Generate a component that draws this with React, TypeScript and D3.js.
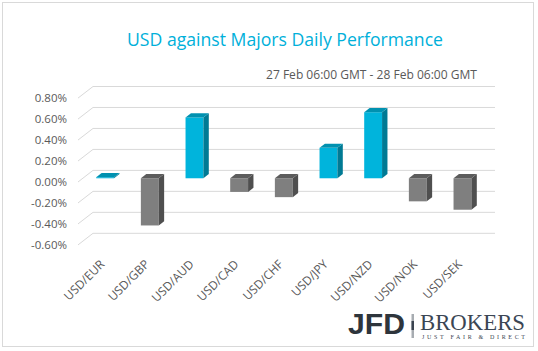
import * as d3 from "d3";

const pairs = ["USD/EUR", "USD/GBP", "USD/AUD", "USD/CAD", "USD/CHF", "USD/JPY", "USD/NZD", "USD/NOK", "USD/SEK"];
const changes = [0.01, -0.45, 0.58, -0.13, -0.18, 0.29, 0.63, -0.22, -0.3];
const yTicks = [-0.6, -0.4, -0.2, 0, 0.2, 0.4, 0.6, 0.8];

const title = "USD against Majors Daily Performance";
const subtitle = "27 Feb 06:00 GMT - 28 Feb 06:00 GMT";

const width = 538;
const height = 351;

// depth of the 3d plot box (front plane -> back wall)
const depth = { dx: 15, dy: -11.6 };
const barFront = 0.32;
const barBack = 0.68;

const fmt = d3
  .formatLocale({ decimal: ".", thousands: ",", grouping: [3], currency: ["$", ""], minus: "-" })
  .format(".2%");

export default function App() {
  const x = d3.scaleBand().domain(pairs).range([78, 480]).paddingInner(0.6).paddingOuter(0.3);
  const y = d3.scaleLinear().domain([-0.6, 0.8]).range([244.9, 98.1]);
  // values are in percent, format expects fractions
  const label = (v: number) => fmt(v / 100);

  const fx = depth.dx * barFront;
  const fy = depth.dy * barFront;
  const sx = depth.dx * (barBack - barFront);
  const sy = depth.dy * (barBack - barFront);

  return (
    <svg width={width} height={height} style={{ position: "absolute", left: 0, top: 0, background: "#fff" }}>
      <rect x={2.5} y={2.5} width={531} height={344} fill="#fff" stroke="#d9d9d9" />
      <text
        x={285}
        y={46}
        textAnchor="middle"
        fontFamily="'Open Sans', sans-serif"
        fontSize={18}
        fill="#00b0da"
        textLength={316}
        lengthAdjust="spacingAndGlyphs"
      >
        {title}
      </text>
      <text
        x={477}
        y={79}
        textAnchor="end"
        fontFamily="'Open Sans', sans-serif"
        fontSize={12.5}
        fill="#595959"
        textLength={211}
        lengthAdjust="spacingAndGlyphs"
      >
        {subtitle}
      </text>

      {/* gridlines: left wall diagonal + back wall */}
      <g fill="none" stroke="#d9d9d9" strokeWidth={1}>
        {yTicks.map((t) => {
          const yy = y(t);
          return (
            <path
              key={t}
              d={`M${x.range()[0]},${yy}L${x.range()[0] + depth.dx},${yy + depth.dy}L${x.range()[1] + depth.dx},${yy + depth.dy}`}
            />
          );
        })}
      </g>
      <g fontFamily="'Open Sans', sans-serif" fontSize={11.5} fill="#595959" textAnchor="end">
        {yTicks.map((t) => (
          <text key={t} x={67} y={y(t)} dy="0.35em">
            {label(t)}
          </text>
        ))}
      </g>

      {/* 3d columns */}
      <g>
        {pairs.map((p, i) => {
          const v = changes[i];
          const pos = v >= 0;
          const x0 = (x(p) as number) + fx;
          const x1 = x0 + x.bandwidth();
          const top = Math.min(y(0), y(v)) + fy;
          const bot = Math.max(y(0), y(v)) + fy;
          const c = pos
            ? { front: "#00b4dc", side: "#007a94", top: "#0091b0" }
            : { front: "#7f7f7f", side: "#4f4f4f", top: "#5c5c5c" };
          return (
            <g key={p}>
              <rect x={x0} y={top} width={x1 - x0} height={Math.max(bot - top, 0.8)} fill={c.front} />
              <path d={`M${x1},${top}L${x1 + sx},${top + sy}L${x1 + sx},${bot + sy}L${x1},${bot}Z`} fill={c.side} />
              <path d={`M${x0},${top}L${x0 + sx},${top + sy}L${x1 + sx},${top + sy}L${x1},${top}Z`} fill={c.top} />
            </g>
          );
        })}
      </g>

      <g fontFamily="'Open Sans', sans-serif" fontSize={12} fill="#595959" textAnchor="end">
        {pairs.map((p) => {
          const cx = (x(p) as number) + x.bandwidth() / 2 + 5;
          return (
            <text key={p} transform={`translate(${cx},265) rotate(-45)`}>
              {p}
            </text>
          );
        })}
      </g>

      {/* logo */}
      <g>
        <text
          x={348}
          y={334}
          fontFamily="'Liberation Sans', Arial, sans-serif"
          fontWeight="bold"
          fontSize={29}
          fill="#2e353c"
          textLength={57}
          lengthAdjust="spacingAndGlyphs"
        >
          JFD
        </text>
        <rect x={411.5} y={314} width={2.5} height={24} fill="#a7acb1" />
        <rect x={411.5} y={321} width={2.5} height={9} fill="#3b4450" />
        <text
          x={420}
          y={329.5}
          fontFamily="'Liberation Serif', serif"
          fontSize={24}
          fill="#3b4654"
          textLength={105}
          lengthAdjust="spacingAndGlyphs"
        >
          BROKERS
        </text>
        <text
          x={422}
          y={339}
          fontFamily="'Liberation Serif', serif"
          fontSize={6}
          fill="#3b4654"
          textLength={103}
          lengthAdjust="spacing"
        >
          JUST FAIR &amp; DIRECT
        </text>
      </g>
    </svg>
  );
}
